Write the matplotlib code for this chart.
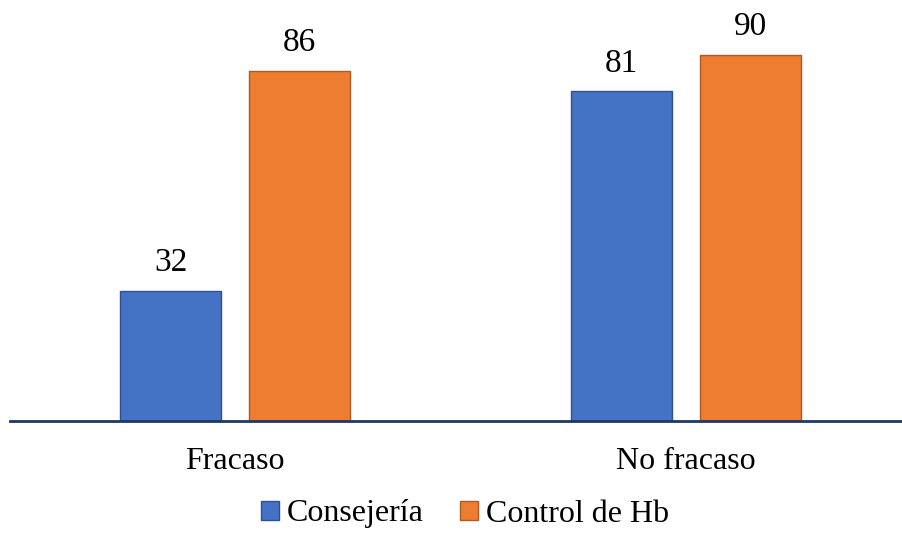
import numpy as np
import matplotlib
matplotlib.use("Agg")
import matplotlib.pyplot as plt

# datos
categorias = ["Fracaso", "No fracaso"]
consejeria = [32, 81]
control_hb = [86, 90]

plt.rcParams["font.family"] = ["Liberation Serif", "DejaVu Serif"]

fig = plt.figure(figsize=(9.02, 5.38), dpi=100)
# ejes en pixeles: izquierda 10, base 421, alto 407
ax = fig.add_axes([10 / 902, (538 - 421) / 538, 892 / 902, 407 / 538])

x = np.arange(len(categorias))
ancho = 0.224
desp = 0.143

b1 = ax.bar(x - desp, consejeria, ancho, color="#4472C4", edgecolor="#2F528F",
            linewidth=1.0, label="Consejería")
b2 = ax.bar(x + desp, control_hb, ancho, color="#ED7D31", edgecolor="#AE5A21",
            linewidth=1.0, label="Control de Hb")

for barras in (b1, b2):
    ax.bar_label(barras, padding=9, fontsize=24)

ax.set_xlim(-0.499, 1.479)
ax.set_ylim(0, 100)

for lado in ("top", "right", "left"):
    ax.spines[lado].set_visible(False)
ax.spines["bottom"].set_color("#203864")
ax.spines["bottom"].set_linewidth(2)
ax.set_yticks([])
ax.set_xticks(x)
ax.set_xticklabels(categorias, fontsize=23)
ax.tick_params(axis="x", length=0, pad=19)

fig.legend(loc="center", bbox_to_anchor=(465 / 902, (538 - 514) / 538), ncol=2,
           frameon=False, fontsize=23, handlelength=0.55, handleheight=0.55,
           handletextpad=0.25, columnspacing=1.15)

fig.savefig("out.png", dpi=100)
